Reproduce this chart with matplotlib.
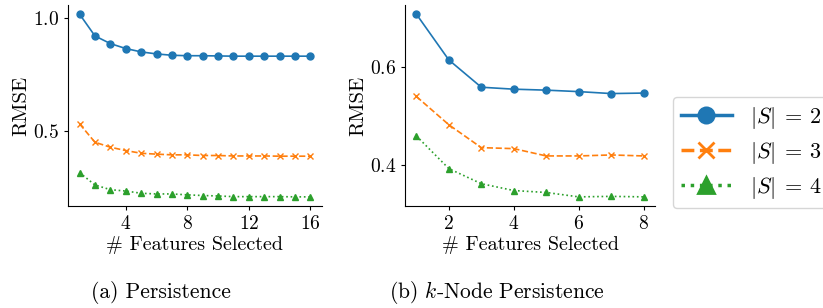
import matplotlib
matplotlib.use("Agg")
import matplotlib.pyplot as plt
from matplotlib.lines import Line2D

plt.rcParams['font.family'] = 'cmr10'
plt.rcParams['mathtext.fontset'] = 'cm'
plt.rcParams['axes.formatter.use_mathtext'] = True

# panel (a) persistence, 1..16 features
xa = list(range(1, 17))
a_s2 = [1.018, 0.921, 0.887, 0.865, 0.850, 0.841, 0.835, 0.833, 0.833, 0.832, 0.831, 0.831, 0.831, 0.831, 0.831, 0.831]
a_s3 = [0.530, 0.448, 0.426, 0.411, 0.399, 0.395, 0.392, 0.392, 0.389, 0.389, 0.387, 0.387, 0.387, 0.386, 0.386, 0.386]
a_s4 = [0.313, 0.258, 0.237, 0.231, 0.221, 0.218, 0.218, 0.214, 0.211, 0.209, 0.206, 0.206, 0.206, 0.206, 0.205, 0.205]

# panel (b) k-node persistence, 1..8 features
xb = list(range(1, 9))
b_s2 = [0.709, 0.615, 0.559, 0.555, 0.553, 0.550, 0.546, 0.547]
b_s3 = [0.540, 0.482, 0.435, 0.433, 0.418, 0.418, 0.420, 0.418]
b_s4 = [0.459, 0.392, 0.361, 0.347, 0.343, 0.334, 0.335, 0.334]

labels = [r'$|S|\:=\:2$', r'$|S|\:=\:3$', r'$|S|\:=\:4$']
colors = ['#1f77b4', '#ff7f0e', '#2ca02c']
styles = ['-', '--', ':']
markers = ['o', 'x', '^']

W, H = 823, 308
fig = plt.figure(figsize=(W / 100, H / 100), dpi=100)

def add_ax(l, t, r, b):
    return fig.add_axes([l / W, 1 - b / H, (r - l) / W, (b - t) / H])

ax1 = add_ax(68, 5, 322, 206)
ax2 = add_ax(405, 5, 655, 206)

for ax, x, series in [(ax1, xa, [a_s2, a_s3, a_s4]), (ax2, xb, [b_s2, b_s3, b_s4])]:
    for y, c, ls, m in zip(series, colors, styles, markers):
        ax.plot(x, y, color=c, linestyle=ls, marker=m, lw=1.2, ms=5)
    ax.spines['top'].set_visible(False)
    ax.spines['right'].set_visible(False)
    ax.set_xlabel('# Features Selected', fontsize=14.5, labelpad=2)
    ax.set_ylabel('RMSE', fontsize=15, labelpad=2)
    ax.tick_params(labelsize=14, length=3)

ax1.set_xticks([4, 8, 12, 16])
ax1.set_yticks([0.5, 1.0])
ax2.set_xticks([2, 4, 6, 8])
ax2.set_yticks([0.4, 0.6])

handles = [Line2D([], [], color=c, linestyle=ls, marker=m, lw=2.5, ms=11, mew=2.0)
           for c, ls, m in zip(colors, styles, markers)]
fig.legend(handles, labels, loc='upper left', bbox_to_anchor=(673 / W, 1 - 97 / H),
           borderaxespad=0, fontsize=16, frameon=True, handlelength=2.3,
           handletextpad=0.8, borderpad=0.35, labelspacing=0.4)

fig.text(161 / W, 1 - 292 / H, '(a) Persistence', ha='center', va='center', fontsize=15.5)
fig.text(497 / W, 1 - 292 / H, r'(b) $k$-Node Persistence', ha='center', va='center', fontsize=15.5)

fig.savefig('out.png', dpi=100)
